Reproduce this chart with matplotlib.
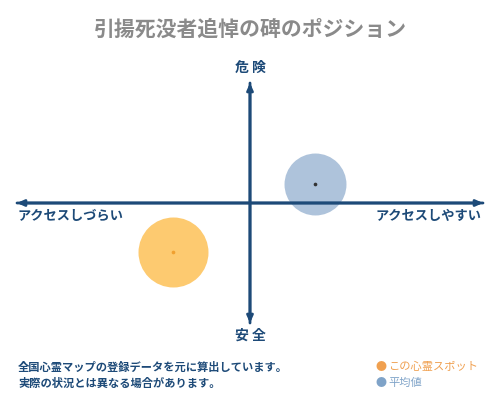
import matplotlib.pyplot as plt

plt.rcParams['font.family'] = ['Noto Sans CJK JP', 'DejaVu Sans']

# position data (x: access, y: danger), range -1..1
labels = ['この心霊スポット', '平均値']
x_vals = [-0.33, 0.28]
y_vals = [-0.41, 0.16]
sizes = [2540, 1990]
fill_colors = ['#fdca70', '#aec3db']
dot_colors = ['#f0a030', '#333333']
legend_colors = ['#f0a050', '#7fa3c8']

title = '引揚死没者追悼の碑のポジション'
note_lines = ['全国心霊マップの登録データを元に算出しています。',
              '実際の状況とは異なる場合があります。']

navy = '#1d4a78'

fig = plt.figure(figsize=(5, 4), dpi=100)
fig.patch.set_facecolor('white')

# plot area: horizontal axis 17..483 px, vertical 83..323 px
ax = fig.add_axes([17 / 500, 1 - 323 / 400, 466 / 500, 240 / 400])
ax.set_xlim(-1, 1)
ax.set_ylim(-1, 1)
ax.axis('off')

for x, y, s, fc, dc in zip(x_vals, y_vals, sizes, fill_colors, dot_colors):
    ax.scatter(x, y, s=s, color=fc, zorder=1, linewidths=0)
    ax.scatter(x, y, s=7, color=dc, zorder=3, linewidths=0)

arrow = dict(arrowstyle='-|>,head_length=0.4,head_width=0.18', color=navy, lw=2,
             shrinkA=0, shrinkB=0)
ax.annotate('', xy=(1, 0), xytext=(-1, 0), arrowprops=arrow, zorder=2)
ax.annotate('', xy=(-1, 0), xytext=(1, 0), arrowprops=arrow, zorder=2)
ax.annotate('', xy=(0, 1), xytext=(0, -1), arrowprops=arrow, zorder=2)
ax.annotate('', xy=(0, -1), xytext=(0, 1), arrowprops=arrow, zorder=2)

fig.text(0.5, 1 - 29 / 400, title, ha='center', va='center', fontsize=15,
         color='#8a8a8a', fontweight='bold')
fig.text(0.5, 1 - 68 / 400, '危 険', ha='center', va='center', fontsize=10,
         color=navy, fontweight='bold')
fig.text(0.5, 1 - 336 / 400, '安 全', ha='center', va='center', fontsize=10,
         color=navy, fontweight='bold')
fig.text(18 / 500, 1 - 216 / 400, 'アクセスしづらい', ha='left', va='center',
         fontsize=9.5, color=navy, fontweight='bold')
fig.text(482 / 500, 1 - 216 / 400, 'アクセスしやすい', ha='right', va='center',
         fontsize=9.5, color=navy, fontweight='bold')

for i, line in enumerate(note_lines):
    fig.text(18 / 500, 1 - (367 + 16 * i) / 400, line, ha='left', va='center',
             fontsize=8.1, color=navy, fontweight='bold')

for i, (lab, c) in enumerate(zip(labels, legend_colors)):
    yy = 1 - (367 + 16 * i) / 400
    fig.text(381 / 500, yy, '●', ha='center', va='center', fontsize=8, color=c)
    fig.text(388 / 500, yy, lab, ha='left', va='center', fontsize=8.1, color=c)

fig.savefig('out.png', dpi=100, facecolor='white')
